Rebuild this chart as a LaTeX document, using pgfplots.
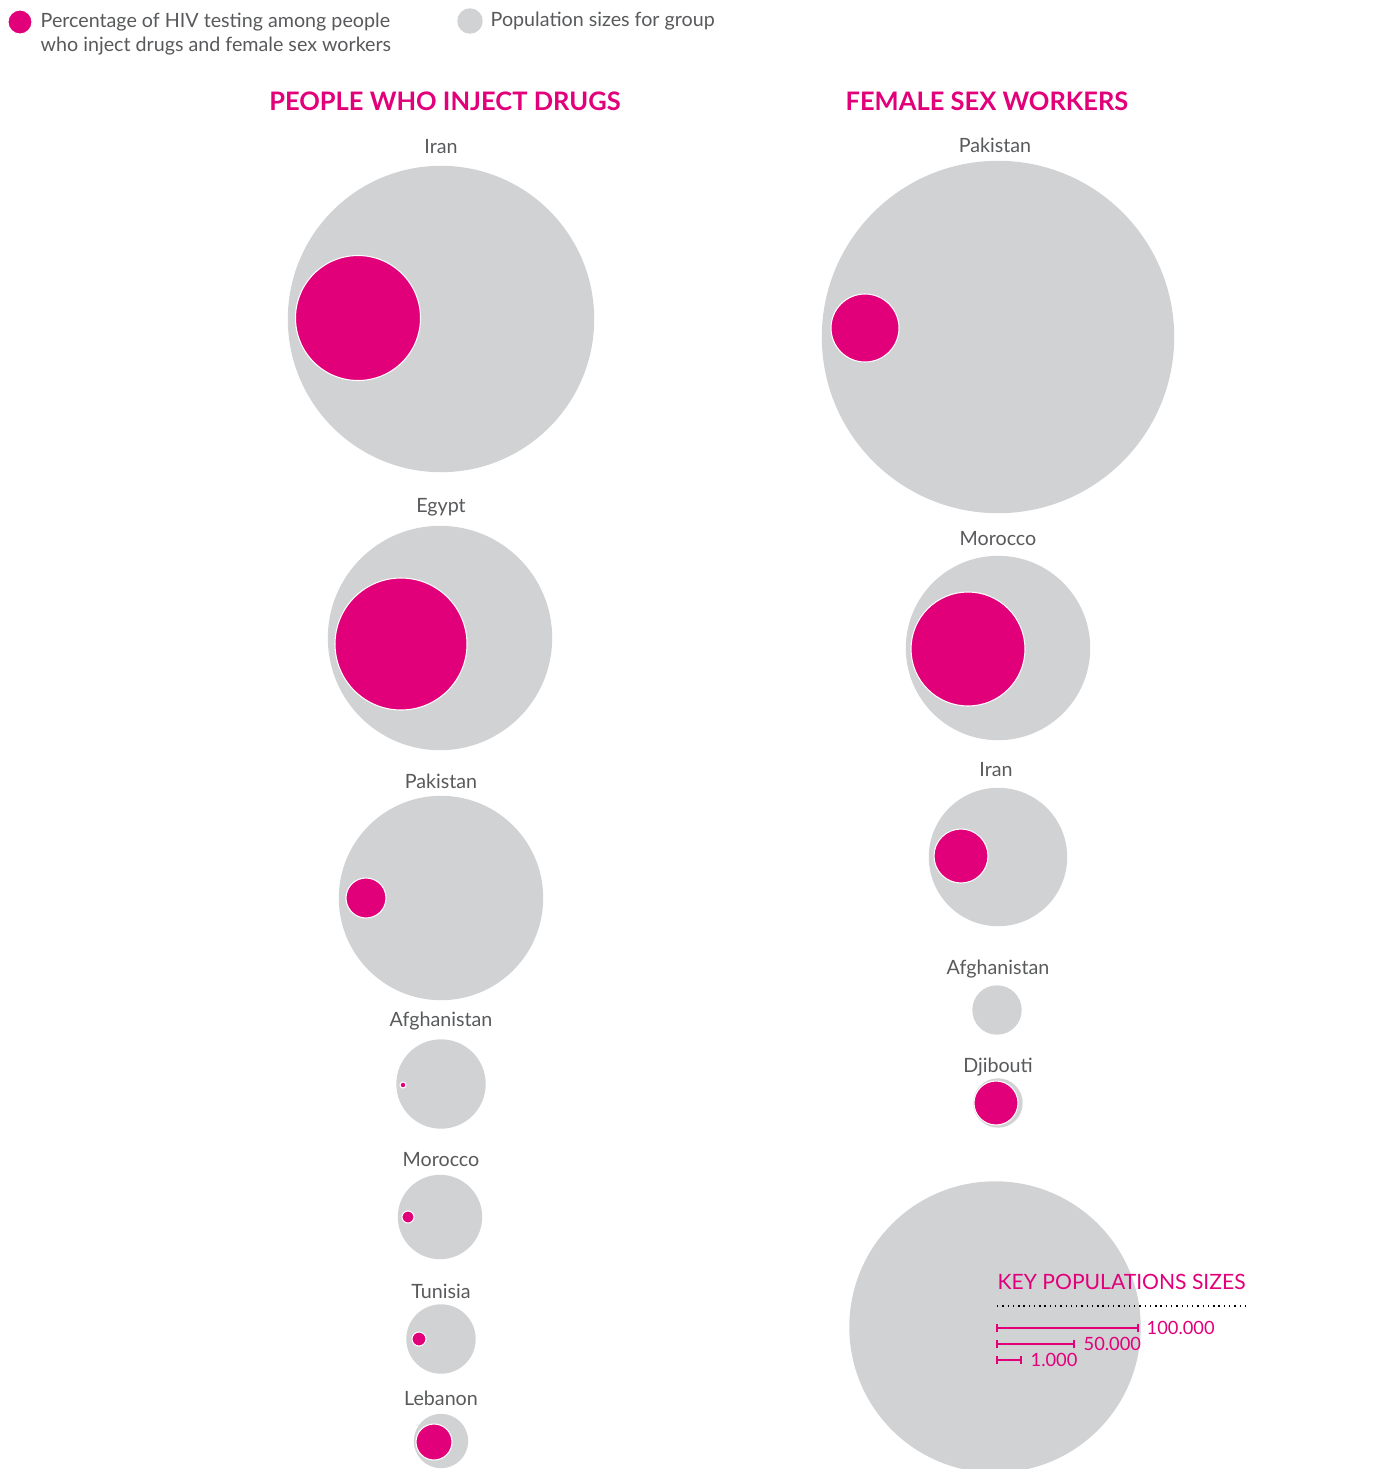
\documentclass[border=0pt]{standalone}
\usepackage{pgfplots}
\pgfplotsset{compat=1.18}
\usepackage{pgfplotstable}
\usetikzlibrary{arrows.meta}
\usepackage{fontspec}
\setmainfont{Lato}
\definecolor{hivpink}{HTML}{E2007A}
\definecolor{popgray}{HTML}{D1D2D4}
\definecolor{txtgray}{HTML}{58595B}

% x, y, radius in pixels of the 1399x1469 layout
\pgfplotstableread{
x y r
441 319 152.5
440 638 111.5
441 898 101.5
441 1084 44
440 1217 41.5
441 1339 34
441 1441 26.5
998 337 175.5
998 648 91.5
998 857 68.5
997 1010 24
998 1103 24
995 1327 145
470 21 12
}\popsizes
\pgfplotstableread{
x y r
358 318 62.5
401 644 66
366 898 20
403 1085 3
408 1217 6
419 1339 7
434 1442 18
865 328 34
968 649 57
961 856 27
996 1103 22
20 22 12
}\testing

\newcommand{\lab}{\fontsize{5.6}{6.8}\selectfont\color{txtgray}}
\begin{document}
\begin{tikzpicture}
\begin{axis}[name=ax,
  width=13.99cm, height=14.69cm, scale only axis,
  xmin=0, xmax=1399, ymin=0, ymax=1469, y dir=reverse,
  hide axis, clip=true, clip marker paths=true]
\addplot[scatter, only marks, mark=*, point meta=0,
  scatter/use mapped color={draw=popgray, fill=popgray},
  visualization depends on={\thisrow{r} \as \rad},
  scatter/@pre marker code/.append style={/tikz/mark size=0.28453*\rad}]
  table[x=x, y=y] {\popsizes};
\addplot[scatter, only marks, mark=*, point meta=0,
  scatter/use mapped color={draw=white, line width=0.3pt, fill=hivpink},
  visualization depends on={\thisrow{r} \as \rad},
  scatter/@pre marker code/.append style={/tikz/mark size=0.28453*\rad}]
  table[x=x, y=y] {\testing};

% key
\addplot[black, line width=0.5pt, dash pattern=on 0.4pt off 1.1pt] coordinates {(997,1306) (1250,1306)};
\addplot[hivpink, line width=0.55pt, {Bar[width=2.4pt]-Bar[width=2.4pt]}] coordinates {(996,1328) (1139,1328)};
\addplot[hivpink, line width=0.55pt, {Bar[width=2.4pt]-Bar[width=2.4pt]}] coordinates {(996,1344) (1075,1344)};
\addplot[hivpink, line width=0.55pt, {Bar[width=2.4pt]-Bar[width=2.4pt]}] coordinates {(996,1360) (1022,1360)};

\begin{scope}[every node/.style={inner sep=0pt}]
\node[anchor=west, font=\lab] at (axis cs:40,22) {Percentage of HIV testing among people};
\node[anchor=west, font=\lab] at (axis cs:40,46) {who inject drugs and female sex workers};
\node[anchor=west, font=\lab] at (axis cs:490,21) {Population sizes for group};

\node[font=\fontsize{7.25}{8.5}\selectfont\bfseries\color{hivpink}] at (axis cs:445,101) {PEOPLE WHO INJECT DRUGS};
\node[font=\fontsize{7.25}{8.5}\selectfont\bfseries\color{hivpink}] at (axis cs:987,101) {FEMALE SEX WORKERS};

\node[font=\lab] at (axis cs:441,147) {Iran};
\node[font=\lab] at (axis cs:441,507) {Egypt};
\node[font=\lab] at (axis cs:441,781) {Pakistan};
\node[font=\lab] at (axis cs:441,1021) {Afghanistan};
\node[font=\lab] at (axis cs:441,1160) {Morocco};
\node[font=\lab] at (axis cs:441,1291) {Tunisia};
\node[font=\lab] at (axis cs:441,1398) {Lebanon};

\node[font=\lab] at (axis cs:995,145) {Pakistan};
\node[font=\lab] at (axis cs:998,539) {Morocco};
\node[font=\lab] at (axis cs:996,770) {Iran};
\node[font=\lab] at (axis cs:998,969) {Afghanistan};
\node[font=\lab] at (axis cs:998,1067) {Djibouti};

\node[anchor=west, font=\fontsize{6.0}{7.2}\selectfont\color{hivpink}] at (axis cs:997,1282) {KEY POPULATIONS SIZES};
\node[anchor=west, font=\fontsize{5.2}{6.3}\selectfont\color{hivpink}] at (axis cs:1146,1328) {100.000};
\node[anchor=west, font=\fontsize{5.2}{6.3}\selectfont\color{hivpink}] at (axis cs:1083,1344) {50.000};
\node[anchor=west, font=\fontsize{5.2}{6.3}\selectfont\color{hivpink}] at (axis cs:1030,1360) {1.000};
\end{scope}
\end{axis}
\pgfresetboundingbox
\path (ax.south west) rectangle (ax.north east);
\end{tikzpicture}
\end{document}
